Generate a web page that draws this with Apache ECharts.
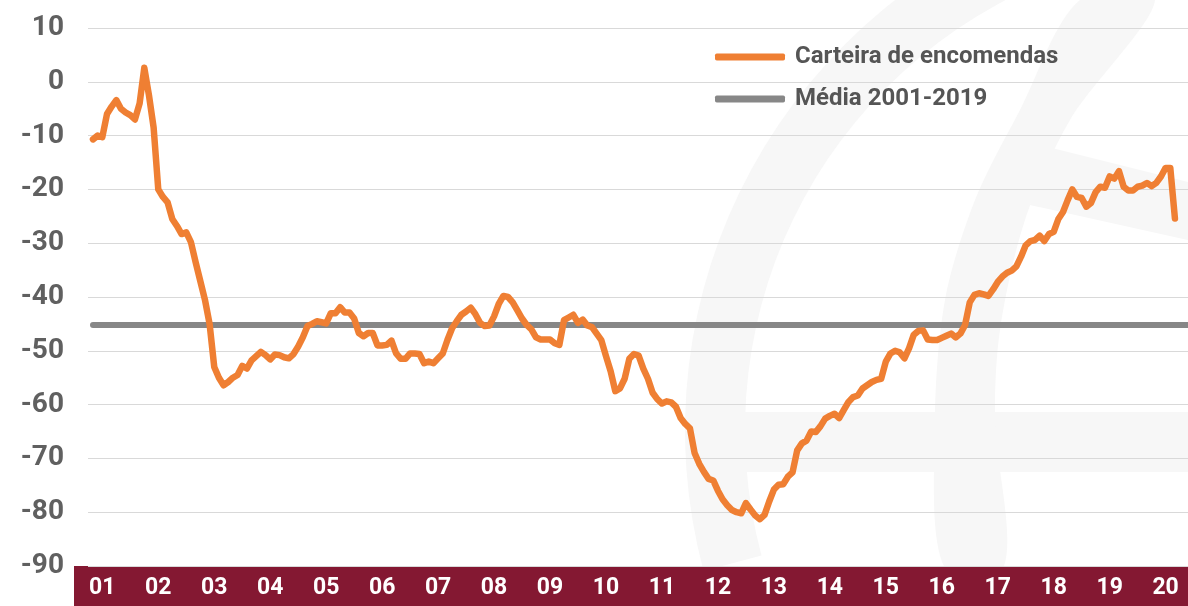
<!DOCTYPE html>
<html>
<head>
<meta charset="utf-8">
<script src="https://cdn.jsdelivr.net/npm/echarts@6/dist/echarts.min.js"></script>
<style>
  html, body { margin: 0; padding: 0; background: #fff; }
  #chart { width: 1188px; height: 606px; }
</style>
</head>
<body>
<div id="chart"></div>
<script>
// monthly series, Jan 2001 .. May 2020
const yearLabels = ['01', '02', '03', '04', '05', '06', '07', '08', '09', '10',
  '11', '12', '13', '14', '15', '16', '17', '18', '19', '20']

const carteira = [
  -10.7, -10.0, -10.3, -6.0, -4.6, -3.4, -5.0, -5.7, -6.2, -7.0, -4.0, 2.6,
  -2.5, -8.5, -20.0, -21.4, -22.4, -25.5, -26.8, -28.3, -28.0, -29.8, -33.5, -37.0,
  -40.5, -45.0, -53.0, -55.0, -56.4, -55.8, -55.0, -54.5, -52.8, -53.3, -51.8, -51.0,
  -50.2, -50.8, -51.6, -50.7, -50.8, -51.2, -51.4, -50.6, -49.2, -47.5, -45.4, -45.0,
  -44.5, -44.7, -44.9, -43.0, -43.0, -41.9, -42.9, -42.9, -44.0, -46.7, -47.3, -46.7,
  -46.7, -49.0, -49.0, -48.9, -48.1, -50.5, -51.5, -51.5, -50.5, -50.5, -50.6, -52.3,
  -52.0, -52.3, -51.4, -50.5, -48.0, -45.8, -44.5, -43.3, -42.7, -42.0, -43.2, -44.8,
  -45.4, -45.3, -43.6, -41.3, -39.8, -40.0, -41.0, -42.5, -44.0, -45.2, -46.0, -47.5,
  -47.9, -47.9, -47.9, -48.6, -48.9, -44.3, -43.8, -43.3, -44.8, -44.2, -45.3, -45.6,
  -46.8, -48.0, -51.0, -53.8, -57.5, -57.0, -55.2, -51.5, -50.6, -50.9, -53.3, -55.2,
  -57.8, -59.0, -59.8, -59.4, -59.6, -60.4, -62.5, -63.6, -64.4, -69.0, -71.0, -72.5,
  -73.8, -74.1, -76.0, -77.6, -78.7, -79.6, -80.0, -80.2, -78.3, -79.5, -80.6, -81.3,
  -80.5, -78.0, -75.8, -74.9, -74.8, -73.4, -72.6, -68.5, -67.2, -66.7, -65.0, -65.1,
  -64.0, -62.6, -62.1, -61.7, -62.5, -61.0, -59.5, -58.6, -58.3, -57.0, -56.4, -55.8,
  -55.4, -55.2, -52.0, -50.5, -50.0, -50.3, -51.4, -49.5, -47.0, -46.3, -46.2, -47.9,
  -48.0, -48.0, -47.6, -47.2, -46.8, -47.5, -46.8, -45.2, -41.0, -39.6, -39.3, -39.5,
  -39.8, -38.6, -37.2, -36.2, -35.5, -35.1, -34.3, -32.5, -30.4, -29.6, -29.4, -28.6,
  -29.6, -28.3, -27.9, -25.5, -24.2, -22.0, -20.0, -21.4, -21.6, -23.2, -22.5, -20.5,
  -19.5, -19.7, -17.6, -18.0, -16.6, -19.5, -20.2, -20.2, -19.5, -19.3, -18.8, -19.4,
  -18.8, -17.6, -16.0, -16.0, -25.4
]

const mediaValue = -45.2

const nomeCarteira = 'Carteira de encomendas'
const nomeMedia = 'Média 2001-2019'

const xMin = -1.07
const xMax = 234.8
// year label sits on the March point of each year
const yearPositions = yearLabels.map((_, k) => 2 + 12 * k)

// faint euro watermark behind the plot
const marca = '#f7f7f7'

const chart = echarts.init(document.getElementById('chart'))
chart.setOption({
  animation: false,
  backgroundColor: '#fff',
  grid: { left: 88, right: 0, top: 28, bottom: 40 },
  graphic: [
    {
      type: 'sector',
      z: -2,
      shape: { cx: 1230, cy: 430, r0: 485, r: 545, startAngle: 2.88, endAngle: 4.4 },
      style: { fill: marca }
    },
    {
      type: 'rect',
      z: -2,
      shape: { x: 745, y: 412, width: 443, height: 60 },
      style: { fill: marca }
    },
    {
      type: 'polygon',
      z: -2,
      shape: {
        smooth: 0.3,
        points: [[944, 566], [935, 420], [945, 300], [975, 200], [1020, 110], [1080, 0],
          [1155, 0], [1070, 120], [1025, 220], [1000, 330], [995, 420], [1004, 566]]
      },
      style: { fill: marca }
    },
    {
      type: 'polygon',
      z: -2,
      shape: { points: [[1040, 145], [1188, 182], [1188, 240], [1030, 205]] },
      style: { fill: marca }
    },
    {
      type: 'rect',
      z: -1,
      shape: { x: 74, y: 566, width: 1114, height: 40 },
      style: { fill: '#841832' }
    }
  ],
  legend: {
    orient: 'vertical',
    left: 710,
    top: 38,
    itemGap: 14,
    itemWidth: 70,
    itemHeight: 7,
    icon: 'roundRect',
    data: [nomeCarteira, nomeMedia],
    textStyle: {
      fontFamily: 'Roboto',
      fontWeight: 'bold',
      fontSize: 24,
      lineHeight: 28,
      color: '#555555',
      padding: [0, 0, 0, 5]
    }
  },
  xAxis: {
    type: 'value',
    min: xMin,
    max: xMax,
    z: 10,
    axisLine: { show: false },
    axisTick: { show: false },
    splitLine: { show: false },
    axisLabel: {
      customValues: yearPositions,
      margin: 11,
      color: '#ffffff',
      fontFamily: 'Roboto',
      fontWeight: 'bold',
      fontSize: 23,
      formatter: (v) => yearLabels[Math.round((v - 2) / 12)]
    }
  },
  yAxis: {
    type: 'value',
    min: -90,
    max: 10,
    interval: 10,
    axisLine: { show: false },
    axisTick: { show: false },
    splitLine: { lineStyle: { color: '#d9d9d9', width: 1.2 } },
    axisLabel: {
      margin: 24,
      color: '#606060',
      fontFamily: 'Roboto',
      fontWeight: 'bold',
      fontSize: 28
    }
  },
  series: [
    {
      name: nomeMedia,
      type: 'line',
      symbol: 'none',
      silent: true,
      data: [[0, mediaValue], [xMax, mediaValue]],
      lineStyle: { color: '#878787', width: 6, cap: 'round' },
      itemStyle: { color: '#878787' }
    },
    {
      name: nomeCarteira,
      type: 'line',
      symbol: 'none',
      data: carteira.map((v, i) => [i, v]),
      lineStyle: { color: '#ef7f33', width: 6.5, cap: 'round', join: 'round' },
      itemStyle: { color: '#ef7f33' }
    }
  ]
})
</script>
</body>
</html>
